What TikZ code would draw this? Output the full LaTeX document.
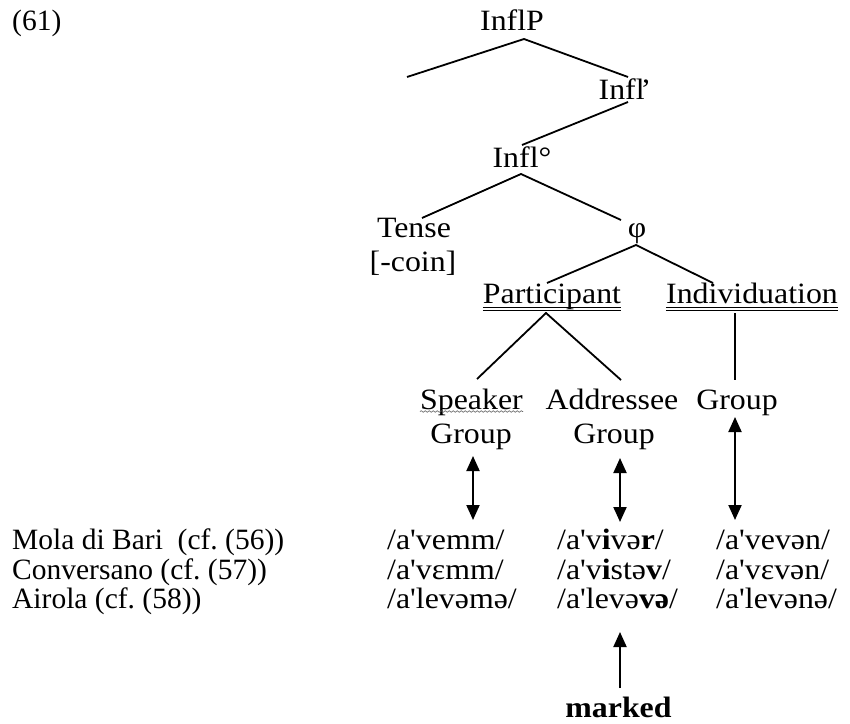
\documentclass[tikz,border=0pt]{standalone}
\usepackage{fontspec}
\newfontfamily\mf{Liberation Serif}[FakeStretch=1.08]
\newfontfamily\mfn{Liberation Serif}[FakeStretch=1.0]
\usetikzlibrary{arrows.meta,decorations.pathmorphing}
\begin{document}
\begin{tikzpicture}[x=1pt,y=-1pt,
  lbl/.style={font=\mf\fontsize{29.5}{34}\selectfont, inner sep=0pt, anchor=base},
  row/.style={lbl, anchor=base west},
  lrow/.style={row, font=\mfn\fontsize{29.5}{34}\selectfont},
  br/.style={line width=1.8pt},
  arr/.style={line width=2pt, -{Triangle[width=13pt,length=15pt]}},
  darr/.style={line width=2pt, {Triangle[width=13pt,length=15pt]}-{Triangle[width=13pt,length=15pt]}},
  uline/.style={line width=1pt}]
\useasboundingbox (0,0) rectangle (850,723);
% labels
\node[lrow] (ex) at (12,30) {(61)};
\node[lbl] (inflp) at (512,30) {InflP};
\node[lbl] (inflbar) at (625,99) {Infl\kern-4pt’};
\node[lbl] (inflo) at (522,167) {Infl°};
\node[lbl] (tense) at (414,237) {Tense};
\node[lbl] (coin) at (413,271) {[-coin]};
\node[lbl] (phi) at (637,237) {φ};
\node[lbl] (part) at (552,303) {Participant};
\node[lbl] (indiv) at (752,303) {Individuation};
\node[lbl] (spk) at (471.5,409) {Speaker};
\node[lbl] (grp1) at (471,443) {Group};
\node[lbl] (addr) at (612,409) {Addressee};
\node[lbl] (grp2) at (614,443) {Group};
\node[lbl] (grp3) at (737,409) {Group};
% data rows
\node[lrow] (l1) at (12,549) {Mola di Bari~ (cf.\ (56))};
\node[lrow] (l2) at (12,579) {Conversano (cf.\ (57))};
\node[lrow] (l3) at (12,608) {Airola (cf.\ (58))};
\node[row] (a1) at (387,549) {/a'vemm/};
\node[row] (a2) at (387,579) {/a'vɛmm/};
\node[row] (a3) at (387,608) {/a'levəmə/};
\node[row] (b1) at (557,549) {/a'v\textbf{i}və\textbf{r}/};
\node[row] (b2) at (557,579) {/a'v\textbf{i}stə\textbf{v}/};
\node[row] (b3) at (557,608) {/a'levə\textbf{və}/};
\node[row] (c1) at (716,549) {/a'vevən/};
\node[row] (c2) at (716,579) {/a'vɛvən/};
\node[row] (c3) at (716,608) {/a'levənə/};
\node[lbl] (marked) at (618.5,717) {\textbf{marked}};
% tree branches
\coordinate (spec) at (407,77);
\draw[br] (spec) -- ([xshift=12pt,yshift=-9pt]inflp.base) -- ([xshift=3pt,yshift=22pt]inflbar.base);
\draw[br] ([xshift=3pt,yshift=-3pt]inflbar.base) -- ([yshift=22pt]inflo.base);
\draw[br] ([xshift=8pt,yshift=19pt]tense.base) -- ([xshift=-1pt,yshift=-7pt]inflo.base) -- ([xshift=-16pt,yshift=17pt]phi.base);
\draw[br] ([xshift=-5pt,yshift=20pt]part.base) -- ([xshift=-1pt,yshift=-8pt]phi.base) -- ([xshift=-39pt,yshift=20pt]indiv.base);
\draw[br] ([xshift=5.5pt,yshift=30pt]spk.base) -- ([xshift=-6pt,yshift=-10pt]part.base) -- ([xshift=9pt,yshift=29pt]addr.base);
\draw[br] ([xshift=-17pt,yshift=-10pt]indiv.base) -- ([xshift=-2pt,yshift=29pt]grp3.base);
% double underlines
\foreach \n in {part,indiv}{
  \draw[uline] ([yshift=-4pt]\n.base west) -- ([yshift=-4pt]\n.base east);
  \draw[uline] ([yshift=-7pt]\n.base west) -- ([yshift=-7pt]\n.base east);
}
% wavy underline
\draw[gray!70!black, line width=0.6pt, decorate, decoration={snake, amplitude=0.8pt, segment length=4pt}]
  ([yshift=-2.5pt]spk.base west) -- ([yshift=-2.5pt]spk.base east);
% arrows
\draw[darr] ([xshift=2pt,yshift=-13pt]grp1.base) -- ([xshift=86pt,yshift=29pt]a1.base west);
\draw[darr] ([xshift=6pt,yshift=-15pt]grp2.base) -- ([xshift=63pt,yshift=27pt]b1.base west);
\draw[darr] ([xshift=-2pt,yshift=-8pt]grp3.base) -- ([xshift=19pt,yshift=29pt]c1.base west);
\draw[arr] ([xshift=1.5pt,yshift=29pt]marked.base) -- ([xshift=63pt,yshift=-24pt]b3.base west);
\end{tikzpicture}
\end{document}
